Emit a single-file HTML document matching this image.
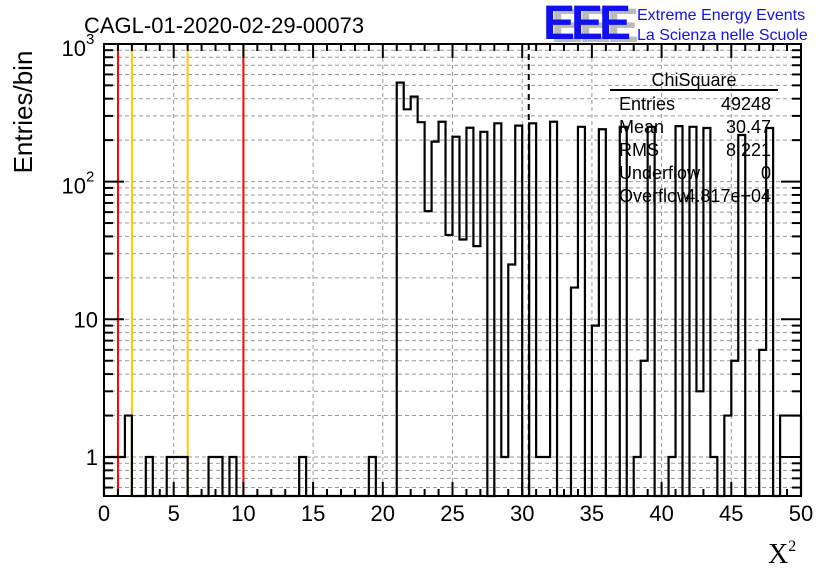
<!DOCTYPE html>
<html><head><meta charset="utf-8"><style>
body{margin:0;background:#fff;}
svg{display:block;font-family:"Liberation Sans",sans-serif;}
</style></head><body>
<svg id="c" width="836" height="572" viewBox="0 0 836 572">
<g id="grid"></g>
<g id="lines"></g>
<path id="hist" fill="none" stroke="#000" stroke-width="2.2"/>
<g id="axes"></g>
<text x="84" y="33" font-size="22">CAGL-01-2020-02-29-00073</text>
<text transform="translate(32,112) rotate(-90)" text-anchor="middle" font-size="26">Entries/bin</text>
<text x="768" y="563" font-family="Liberation Serif" font-size="28">X<tspan font-size="16" dy="-12">2</tspan></text>
<g>
<text x="551" y="42" font-size="48" font-weight="bold" fill="#bbb" letter-spacing="-4">EEE</text>
<text x="543" y="39" font-size="48" font-weight="bold" fill="#1010f0" letter-spacing="-4">EEE</text>
<text x="637" y="20" font-size="16" fill="#1010f0">Extreme Energy Events</text>
<text x="637" y="40" font-size="16" fill="#1010f0">La Scienza nelle Scuole</text>
</g>
<g font-size="18">
<text x="694" y="86" text-anchor="middle">ChiSquare</text>
<line x1="610" y1="90" x2="778" y2="90" stroke="#000" stroke-width="2"/>
<text x="619" y="110">Entries</text><text x="771" y="110" text-anchor="end">49248</text>
<text x="619" y="133">Mean</text><text x="771" y="133" text-anchor="end">30.47</text>
<text x="619" y="156">RMS</text><text x="771" y="156" text-anchor="end">8.221</text>
<text x="619" y="179">Underflow</text><text x="771" y="179" text-anchor="end">0</text>
<text x="619" y="202">Overflow</text><text x="771" y="202" text-anchor="end">4.817e+04</text>
</g>
</svg>
<script>
const binValues=[1,1,1,2,0,0,1,0,0,1,1,1,0,0,0,1,1,0,1,0,
0,0,0,0,0,0,0,0,1,0,0,0,0,0,0,0,0,0,1,0,
0,0,523,335,414,270,61,195,272,41,212,38,246,34,230,0,265,1,25,255,
0,265,1,1,272,0,0,17,250,0,9,240,0,0,250,0,1,5,250,0,
0,1,253,0,250,3,245,1,0,2,5,218,0,0,6,245,0,2,2,2];
const xMin=0,xMax=50,binWidth=0.5;
const xTickLabels=["0","5","10","15","20","25","30","35","40","45","50"];
const yTickValues=[1,10,100,1000];
const redLines=[1,10];
const yellowLines=[2,6];
const meanValue=30.47;
const NS="http://www.w3.org/2000/svg";
const L=104,R=801,T=44,B=496;
const X=v=>L+(v-xMin)/(xMax-xMin)*(R-L);
const Y=v=>v<=0?B:Math.min(B,457-137.7*Math.log10(v));
function mk(p,tag,a){const e=document.createElementNS(NS,tag);for(const k in a)e.setAttribute(k,a[k]);p.appendChild(e);return e;}
const grid=document.getElementById('grid'),axes=document.getElementById('axes'),lines=document.getElementById('lines');
for(let v=5;v<50;v+=5){const e=mk(grid,'line',{x1:X(v),x2:X(v),y1:T,y2:B,stroke:'#999','stroke-dasharray':'4,3'});

}
for(let d=0.1;d<=100;d*=10){for(let m=1;m<=9;m++){const v=d*m;const y=Y(v);if(y<=T+1||y>=B)continue;
const e=mk(grid,'line',{x1:L,x2:R,y1:y,y2:y,stroke:'#999','stroke-dasharray':'4,3'});

}}
redLines.forEach(v=>{const e=mk(lines,'line',{x1:X(v),x2:X(v),y1:T,y2:B,stroke:'#f00','stroke-width':2});

});
yellowLines.forEach(v=>{const e=mk(lines,'line',{x1:X(v),x2:X(v),y1:T,y2:B,stroke:'#fc0','stroke-width':2});

});
{const e=mk(lines,'line',{x1:X(meanValue),x2:X(meanValue),y1:T,y2:B,stroke:'#000','stroke-width':2,'stroke-dasharray':'6,4'});

}
let d='M'+X(xMin)+','+B;
binValues.forEach((v,i)=>{const x0=X(xMin+i*binWidth),x1=X(xMin+(i+1)*binWidth),y=Y(v);d+=' L'+x0+','+y+' L'+x1+','+y;});
d+=' L'+X(xMax)+','+B;
document.getElementById('hist').setAttribute('d',d);
{const e=mk(axes,'rect',{x:L,y:T,width:R-L,height:B-T,fill:'none',stroke:'#000','stroke-width':2});

}
for(let v=0;v<=50;v+=1){const len=v%5===0?14:7;
mk(axes,'line',{x1:X(v),x2:X(v),y1:B,y2:B-len,stroke:'#000','stroke-width':2});
mk(axes,'line',{x1:X(v),x2:X(v),y1:T,y2:T+len,stroke:'#000','stroke-width':2});}
xTickLabels.forEach((t,i)=>{const e=mk(axes,'text',{x:X(+t),y:521,'text-anchor':'middle','font-size':22});e.textContent=t;

});
for(let dd=0.1;dd<=100;dd*=10){for(let m=1;m<=9;m++){const v=dd*m;const y=Y(v);if(y<T-1||y>=B)continue;const len=m===1?20:9;
mk(axes,'line',{x1:L,x2:L+len,y1:y,y2:y,stroke:'#000','stroke-width':2});
mk(axes,'line',{x1:R,x2:R-len,y1:y,y2:y,stroke:'#000','stroke-width':2});}}
yTickValues.forEach(v=>{const y=Y(v);let e;
if(v===1){e=mk(axes,'text',{x:98,y:y+8,'text-anchor':'end','font-size':22});e.textContent='1';}
else if(v===10){e=mk(axes,'text',{x:98,y:y+8,'text-anchor':'end','font-size':22});e.textContent='10';}
else{e=mk(axes,'text',{x:86,y:y+12,'text-anchor':'end','font-size':22});e.textContent='10';
const s=mk(axes,'text',{x:86,y:y,'font-size':15});s.textContent=String(Math.round(Math.log10(v)));

}

});
</script>
</body></html>
